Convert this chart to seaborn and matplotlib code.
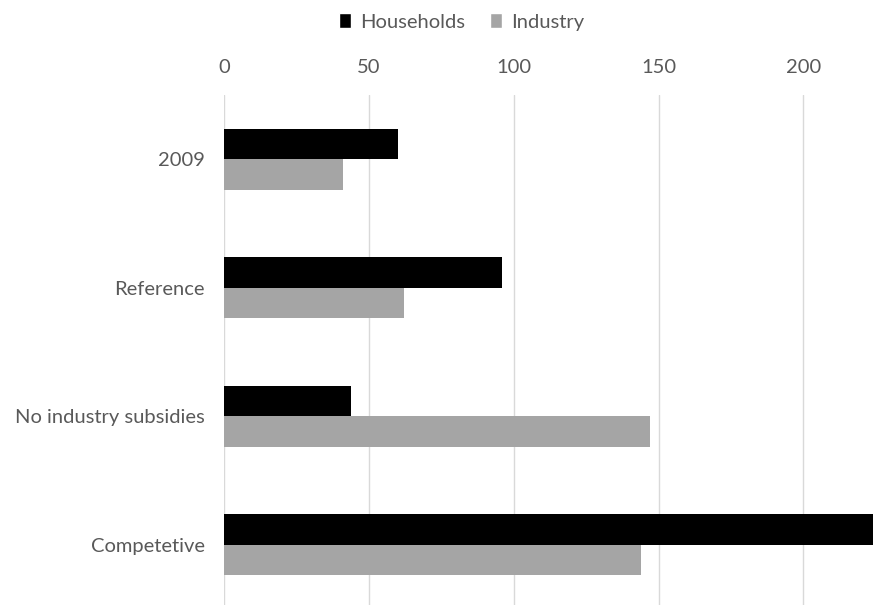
import matplotlib
matplotlib.use("Agg")
import matplotlib.pyplot as plt
import seaborn as sns
import pandas as pd
from matplotlib.patches import Patch

categories = ["2009", "Reference", "No industry subsidies", "Competetive"]
households = [60, 96, 44, 232]
industry = [41, 62, 147, 144]
series_names = ["Households", "Industry"]
x_ticks = [0, 50, 100, 150, 200]

df = pd.DataFrame({
    "category": categories * 2,
    "value": households + industry,
    "series": [series_names[0]] * len(categories) + [series_names[1]] * len(categories),
})

sns.set_style("white")
plt.rcParams["font.family"] = ["Lato", "DejaVu Sans"]

fig = plt.figure(figsize=(8.73, 6.05), dpi=100)
ax = fig.add_axes([224 / 873, 0.0, 1 - 224 / 873, (605 - 95) / 605])

sns.barplot(data=df, y="category", x="value", hue="series", orient="h",
            palette=["#000000", "#a5a5a5"], width=0.475, ax=ax,
            order=categories, hue_order=series_names, legend=False,
            linewidth=0, saturation=1)

ax.set_xlim(0, 224)
ax.set_ylim(3.47, -0.5)
ax.set_xticks(x_ticks)
ax.xaxis.tick_top()
ax.tick_params(axis="x", length=0, pad=14, labelsize=14.5, labelcolor="#595959")
ax.tick_params(axis="y", length=0, pad=14, labelsize=14.5, labelcolor="#595959")
ax.set_xlabel("")
ax.set_ylabel("")
ax.grid(axis="x", color="#d9d9d9", linewidth=1)
ax.set_axisbelow(True)
for s in ax.spines.values():
    s.set_visible(False)

handles = [Patch(facecolor="#000000"), Patch(facecolor="#a5a5a5")]
fig.legend(handles, series_names, loc="center", bbox_to_anchor=(461.5 / 873, 1 - 22 / 605),
           ncol=2, frameon=False, fontsize=14.5, handlelength=0.6, handleheight=0.75,
           handletextpad=0.45, columnspacing=1.2, labelcolor="#595959",
           borderpad=0, borderaxespad=0)

fig.savefig("out.png", dpi=100)
